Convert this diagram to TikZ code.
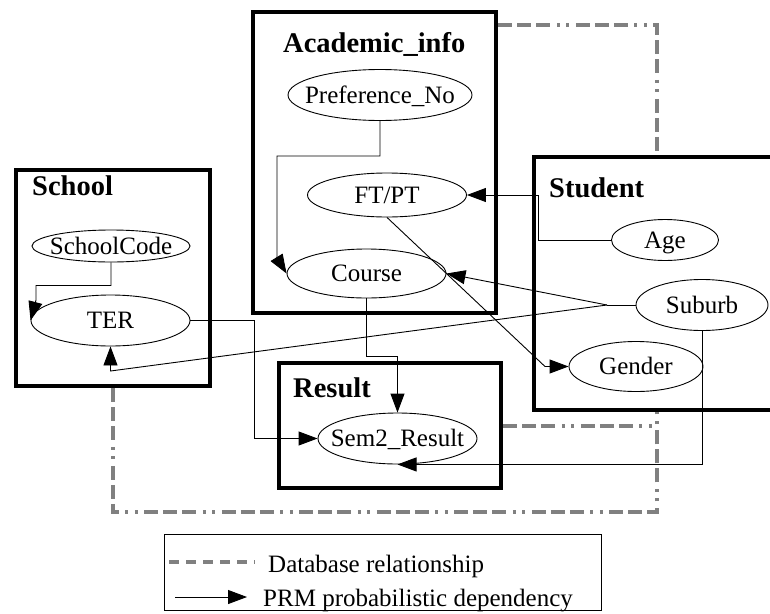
\documentclass[tikz,border=0pt]{standalone}
\usepackage{fontspec}
\setmainfont{Liberation Serif}
\usetikzlibrary{arrows.meta,shapes.geometric,calc}
\definecolor{dbgray}{RGB}{128,128,128}
\begin{document}
\begin{tikzpicture}[x=1pt,y=-1pt,
  classbox/.style={draw,rectangle,line width=4.5pt,inner sep=0pt},
  classtitle/.style={anchor=base west,inner sep=0pt,font=\fontsize{28.5}{34}\selectfont\bfseries},
  attr/.style n args={2}{draw,ellipse,line width=0.9pt,minimum width=#1,minimum height=#2,
    inner sep=-50pt,text height=16pt,text depth=0pt,font=\fontsize{25}{30}\selectfont},
  dep/.style={draw,line width=0.9pt,-{Triangle[length=19pt,width=14pt]}},
  depline/.style={draw,line width=0.9pt},
  dbrel/.style={draw=dbgray,line width=4.2pt,
    dash pattern=on 14pt off 5pt on 14pt off 5pt on 14pt off 6.5pt on 3pt off 6.5pt on 3pt off 6.5pt},
  legtext/.style={anchor=base west,inner sep=0pt,font=\fontsize{25}{30}\selectfont}
]
% page
\fill[white] (0,0) rectangle (770,613);
\useasboundingbox (0,0) rectangle (770,613);

% classes
\node[classbox,minimum width=243pt,minimum height=301pt] (academic) at (374.5,162.5) {};
\node[classbox,minimum width=194pt,minimum height=216pt] (school) at (113,278) {};
\node[classbox,minimum width=266pt,minimum height=253pt] (student) at (667,283.5) {};
\node[classbox,minimum width=222pt,minimum height=125pt] (result) at (390,425.5) {};

\node[classtitle] (academic-t) at (283,52) {Academic\_info};
\node[classtitle] (school-t) at (32,195) {School};
\node[classtitle] (student-t) at (549,197) {Student};
\node[classtitle] (result-t) at (293,397) {Result};

% attributes
\node[attr={184pt}{51pt}] (pref) at (380,95) {Preference\_No};
\node[attr={159pt}{44pt}] (ftpt) at (387,195) {FT/PT};
\node[attr={159pt}{49pt}] (course) at (366.5,273.5) {Course};
\node[attr={158pt}{32pt}] (scode) at (111,246) {SchoolCode};
\node[attr={159pt}{51pt}] (ter) at (110.5,320.5) {TER};
\node[attr={107pt}{41pt}] (age) at (665,240) {Age};
\node[attr={132pt}{51pt}] (suburb) at (702,305) {Suburb};
\node[attr={134pt}{50pt}] (gender) at (636,366.5) {Gender};
\node[attr={159pt}{51pt}] (sem2) at (397.5,438.5) {Sem2\_Result};

% database relationships
\coordinate (toprel) at (657,25);
\draw[dbrel] (academic.east |- toprel) -- (toprel) -- (toprel |- student.north);
\coordinate (lowrel) at (657,512);
\draw[dbrel] (school.south) -- (school.south |- lowrel) -- (lowrel) -- (lowrel |- student.south);
\coordinate (resrel) at (657,426);
\draw[dbrel] (result.east |- resrel) -- (resrel);

% probabilistic dependencies
\coordinate (prefbend) at (277,258);
\draw[dep] (pref.south) -- ++(0,35) -| (prefbend) -- (course.west);
\coordinate (scbend) at (36,300);
\draw[dep] (scode.south) -- ++(0,23) -| (scbend) -- (ter.west);
\coordinate (agebend) at (538,195);
\draw[dep] (age.west) -| (agebend) -- (ftpt.east);
\coordinate (subsplit) at (607,305);
\draw[depline] (suburb.west) -- (subsplit);
\draw[dep] (subsplit) -- (course.east);
\coordinate (terbend) at (110.5,371);
\draw[dep] (subsplit) -- (terbend) -- (ter.south);
\coordinate (gbend) at (545,366.5);
\draw[dep] (ftpt.south) -- (gbend) -- (gender.west);
\draw[dep] (course.south) |- ($(sem2.north)+(0,-56)$) -- (sem2.north);
\coordinate (terdrop) at (254,0);
\draw[dep] (ter.east) -| (terdrop |- sem2.west) -- (sem2.west);
\draw[dep] (suburb.south) |- (sem2.south);

% legend
\node[draw,rectangle,line width=1pt,inner sep=0pt,minimum width=437pt,minimum height=76pt] (legend) at (382.5,572) {};
\coordinate (legdb1) at (169,562);
\coordinate (legdb2) at (255,562);
\draw[draw=dbgray,line width=4.2pt,dash pattern=on 10pt off 7pt] (legdb1) -- (legdb2);
\node[legtext] (legdb-t) at (268,572) {Database relationship};
\coordinate (legdep1) at (175,597);
\coordinate (legdep2) at (247,597);
\draw[dep] (legdep1) -- (legdep2);
\node[legtext] (legdep-t) at (263,606) {PRM probabilistic dependency};
\end{tikzpicture}
\end{document}
